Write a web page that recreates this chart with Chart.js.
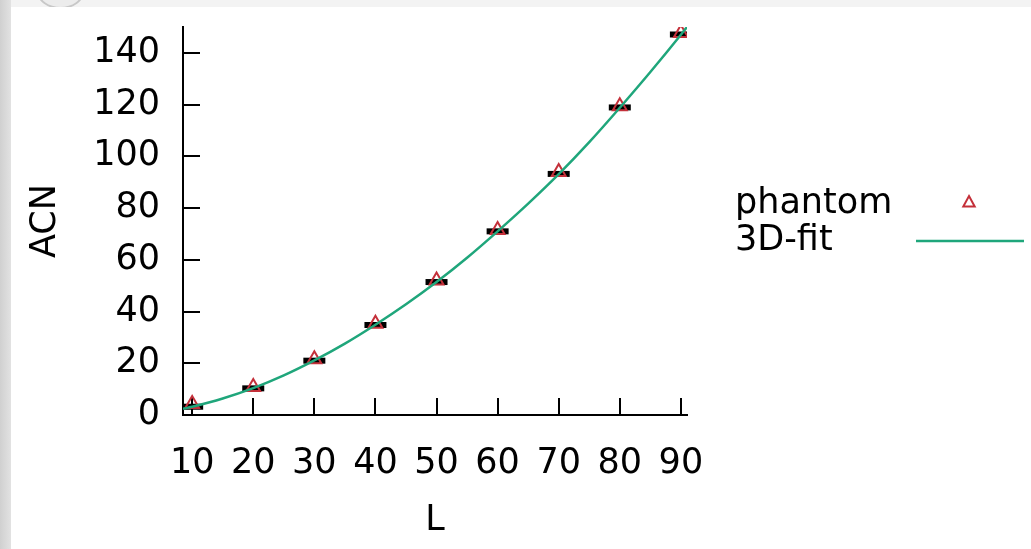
<!DOCTYPE html>
<html>
<head>
<meta charset="utf-8">
<script src="https://cdn.jsdelivr.net/npm/chart.js@4.4.1/dist/chart.umd.min.js"></script>
<style>
  html, body { margin: 0; padding: 0; }
  body {
    width: 1031px; height: 549px; overflow: hidden; position: relative;
    background: linear-gradient(to right, #d0d0d0 0px, #e2e2e2 11px, #f3f3f3 11px);
  }
  #knob {
    position: absolute; left: 37px; top: -26px; width: 43px; height: 31px;
    border-radius: 50%; background: #ececec; border: 2px solid #c8c8c8;
  }
  #wrap {
    position: absolute; left: 11px; top: 7px; width: 1020px; height: 542px;
    background: #fff;
  }
</style>
</head>
<body>
<div id="knob"></div>
<div id="wrap"><canvas id="acnChart"></canvas></div>
<script>
// L values and measured ACN
const lengths = [10, 20, 30, 40, 50, 60, 70, 80, 90];
const phantomAcn = [4.3, 10.8, 21.6, 35.3, 52.0, 71.5, 93.9, 119.4, 147.7];
const meanAcn = [3.2, 10.3, 21.0, 34.8, 51.4, 71.0, 93.2, 118.9, 147.1];

// fitted curve, sampled along L
const fitL = [8.5, 10, 15, 20, 25, 30, 35, 40, 45, 50, 55, 60, 65, 70, 75, 80, 85, 90, 91];
const fitAcn = [2.4, 3.2, 6.4, 10.4, 15.3, 21.1, 27.6, 34.9, 42.8, 51.4, 60.8, 71.0, 81.7, 93.1, 105.5, 118.8, 132.6, 147.0, 150.0];

const xTicks = [10, 20, 30, 40, 50, 60, 70, 80, 90];
const yTicks = [0, 20, 40, 60, 80, 100, 120, 140];

const FONT = { family: "'DejaVu Sans', sans-serif", size: 35 };
const RED = '#c4303a';
const GREEN = '#1fa67b';

const toPoints = (xs, ys) => xs.map((x, i) => ({ x: x, y: ys[i] }));

// gnuplot-style key: text on the left, sample on the right
const keyPlugin = {
    id: 'keyPlugin',
    afterDraw(chart) {
        const ctx = chart.ctx;
        const area = chart.chartArea;
        const textX = area.right + 48;
        const sampleL = area.right + 229;
        const sampleR = area.right + 337;
        let y = 197;
        ctx.save();
        ctx.font = `${FONT.size}px ${FONT.family}`;
        ctx.textBaseline = 'middle';
        ctx.textAlign = 'left';
        chart.data.datasets.forEach(ds => {
            if (ds.inKey === false) return;
            ctx.fillStyle = '#000';
            ctx.fillText(ds.label, textX, y);
            ctx.strokeStyle = ds.borderColor;
            if (ds.showLine === false) {
                // small open triangle
                const r = 6, cx = (sampleL + sampleR) / 2 - 1, cy = y - 2;
                ctx.lineWidth = 2;
                ctx.beginPath();
                ctx.moveTo(cx, cy - r);
                ctx.lineTo(cx + r * 0.95, cy + r * 0.75);
                ctx.lineTo(cx - r * 0.95, cy + r * 0.75);
                ctx.closePath();
                ctx.stroke();
            } else {
                ctx.lineWidth = ds.borderWidth;
                ctx.beginPath();
                ctx.moveTo(sampleL, y);
                ctx.lineTo(sampleR, y);
                ctx.stroke();
            }
            y += 37;
        });
        ctx.restore();
    }
};

// keep the plot box fixed, no extra label padding
const fixY = scale => {
    scale.width = 172;
    scale.paddingTop = 0;
    scale.paddingBottom = 0;
};
const fixX = scale => {
    scale.height = 134;
    scale.paddingLeft = 0;
    scale.paddingRight = 0;
};

const ctx = document.getElementById('acnChart').getContext('2d');
const acnChart = new Chart(ctx, {
    type: 'scatter',
    data: {
        datasets: [
            {
                label: 'phantom',
                data: toPoints(lengths, phantomAcn),
                showLine: false,
                pointStyle: 'triangle',
                pointRadius: 8,
                borderColor: RED,
                backgroundColor: 'rgba(0,0,0,0)',
                pointBorderWidth: 2,
                order: 1
            },
            {
                label: '3D-fit',
                data: toPoints(fitL, fitAcn),
                showLine: true,
                borderColor: GREEN,
                borderWidth: 2.5,
                pointRadius: 0,
                cubicInterpolationMode: 'monotone',
                order: 0
            },
            {
                label: 'mean',
                inKey: false,
                data: toPoints(lengths, meanAcn),
                showLine: false,
                pointStyle: 'line',
                pointRadius: 11,
                pointBorderWidth: 6,
                borderColor: '#000',
                order: 2
            }
        ]
    },
    options: {
        responsive: true,
        maintainAspectRatio: false,
        animation: false,
        layout: { padding: { top: 20, right: 344, left: 0, bottom: 0 } },
        plugins: {
            legend: { display: false },
            tooltip: { enabled: false }
        },
        scales: {
            x: {
                type: 'linear',
                min: 8.5,
                max: 91,
                afterBuildTicks: scale => { scale.ticks = xTicks.map(v => ({ value: v })); },
                afterFit: fixX,
                border: { color: '#000', width: 2 },
                grid: { drawOnChartArea: false, tickLength: -17, color: '#000', lineWidth: 2 },
                ticks: { color: '#000', font: FONT, padding: 45, maxRotation: 0 },
                title: { display: true, text: 'L', color: '#000', font: FONT, padding: { top: 0, bottom: 7 } }
            },
            y: {
                type: 'linear',
                min: 0,
                max: 150,
                afterBuildTicks: scale => { scale.ticks = yTicks.map(v => ({ value: v })); },
                afterFit: fixY,
                border: { color: '#000', width: 2 },
                grid: { drawOnChartArea: false, tickLength: -17, color: '#000', lineWidth: 2 },
                ticks: { color: '#000', font: FONT, padding: 40 },
                title: { display: true, text: 'ACN', color: '#000', font: FONT, padding: { top: 14, bottom: 0 } }
            }
        }
    },
    plugins: [keyPlugin]
});
</script>
</body>
</html>
